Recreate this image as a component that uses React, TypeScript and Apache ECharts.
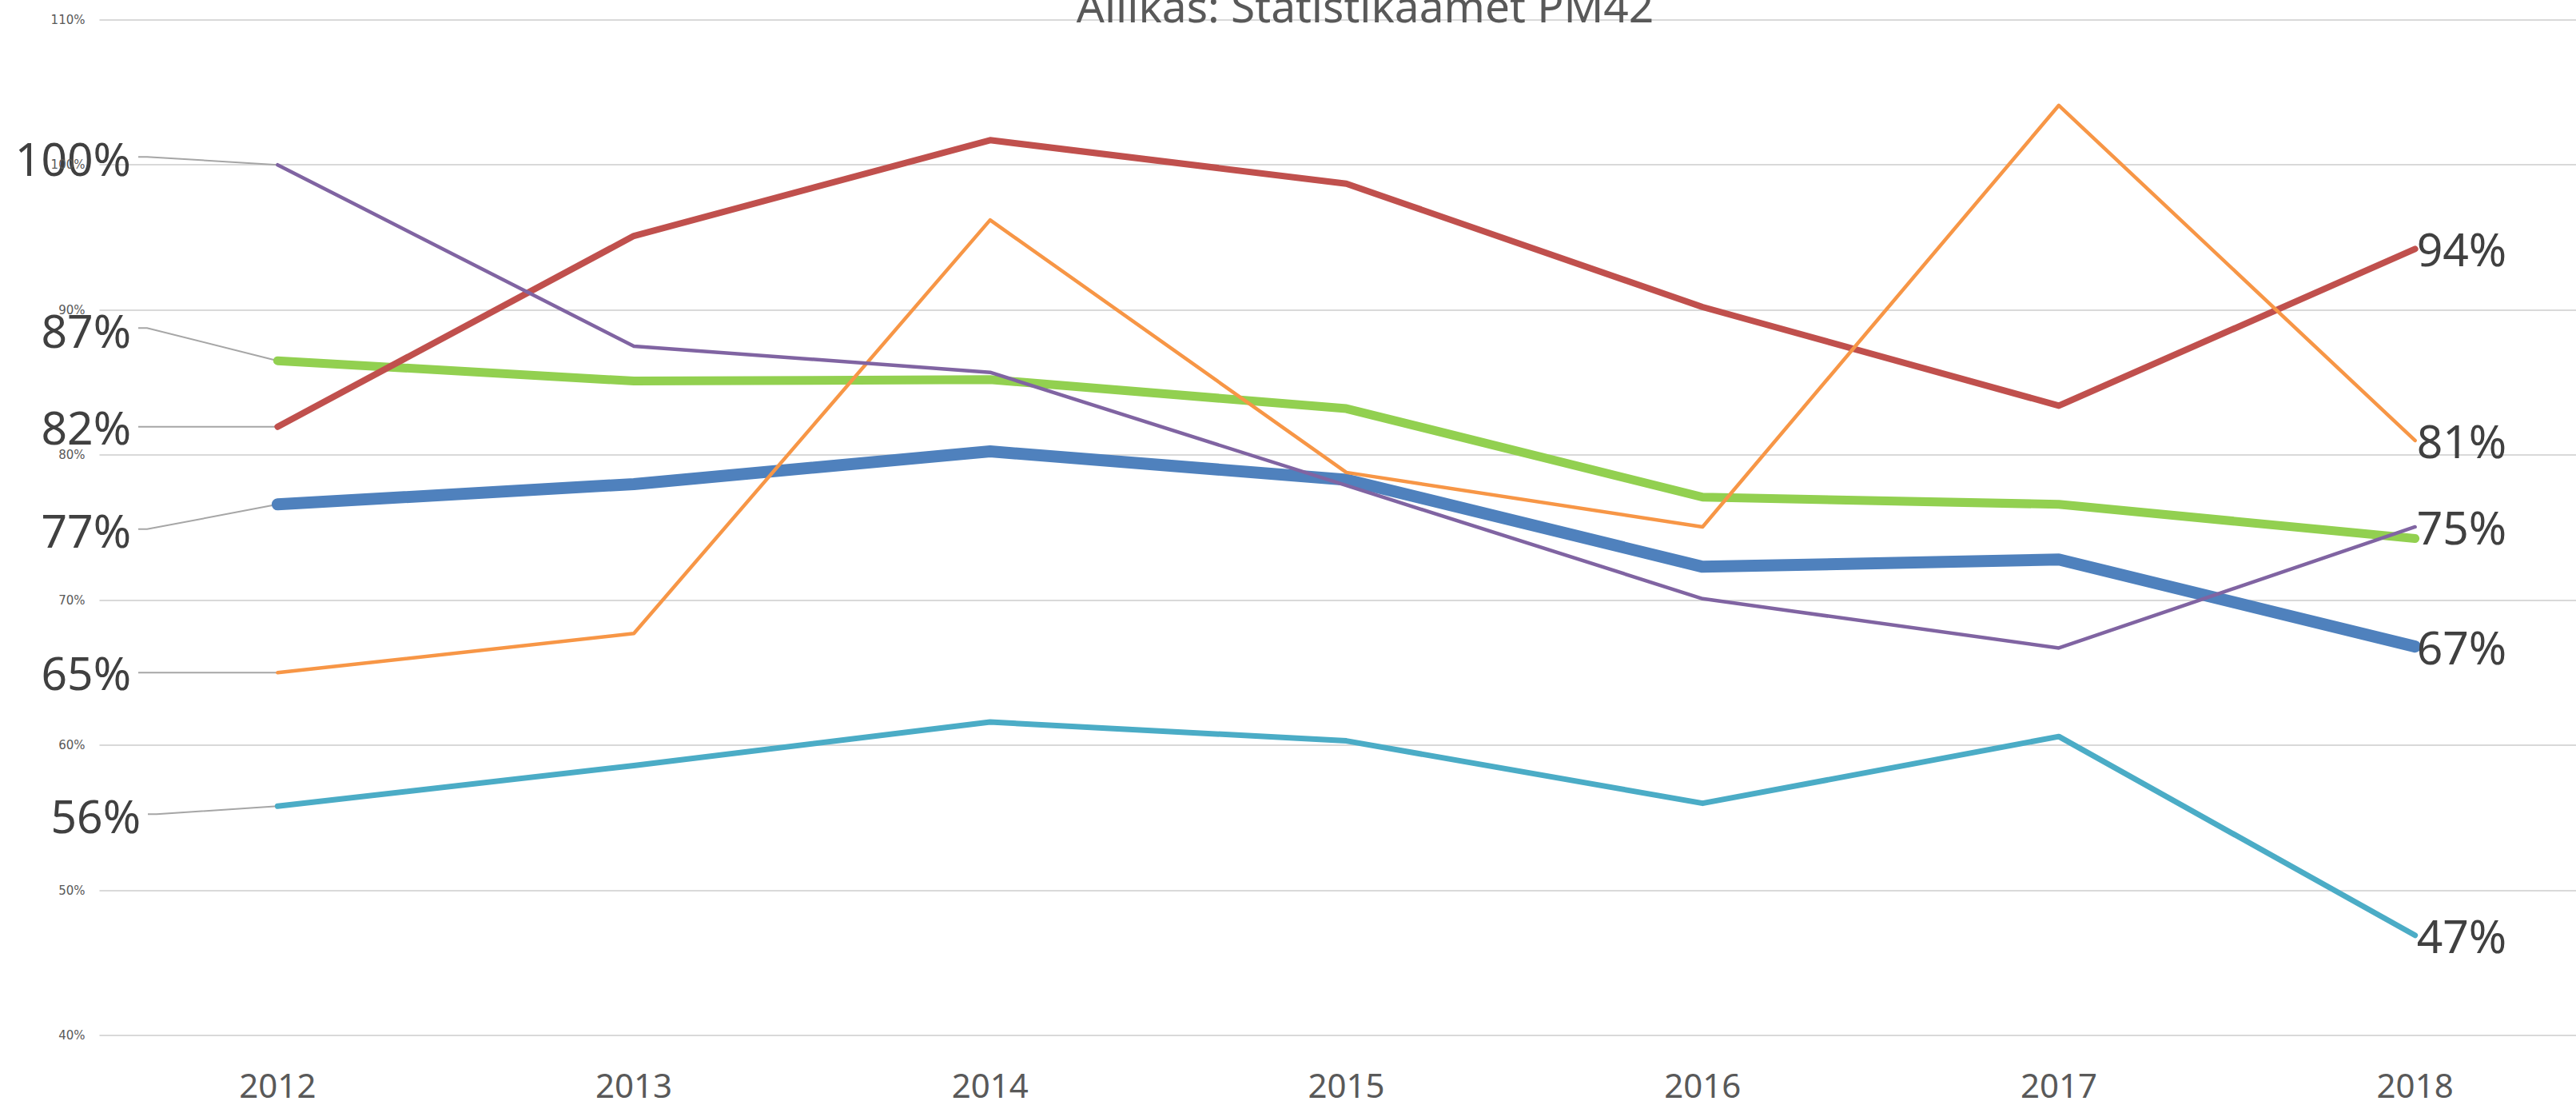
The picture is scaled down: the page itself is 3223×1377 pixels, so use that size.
import React, { useEffect, useRef } from "react";
import * as echarts from "echarts";

const years = ["2012", "2013", "2014", "2015", "2016", "2017", "2018"];
const blueValues = [76.6, 78.0, 80.25, 78.3, 72.3, 72.8, 66.8];
const greenValues = [86.5, 85.1, 85.2, 83.2, 77.1, 76.6, 74.25];
const redValues = [81.95, 95.1, 101.7, 98.7, 90.2, 83.4, 94.2];
const cyanValues = [55.8, 58.6, 61.6, 60.3, 56.0, 60.6, 46.9];
const orangeValues = [65.0, 67.7, 96.2, 78.8, 75.05, 104.1, 81.0];
const purpleValues = [100.0, 87.5, 85.7, 77.9, 70.1, 66.7, 75.05];
const yMin = 40;
const yMax = 110;
const yStep = 10;
const titleText = "Allikas: Statistikaamet PM42";

const seriesDefs = [
  { values: blueValues, color: "#4F81BD", width: 15, endLabel: true },
  { values: greenValues, color: "#92D050", width: 11, endLabel: false },
  { values: redValues, color: "#C0504D", width: 8, endLabel: true },
  { values: cyanValues, color: "#4BACC6", width: 7, endLabel: true },
  { values: orangeValues, color: "#F79646", width: 4.5, endLabel: true },
  { values: purpleValues, color: "#8064A2", width: 4.5, endLabel: true },
];

// layout of the left-hand labels (pixel offsets relative to the first point)
const leftLayout = [
  { dy: 32, lineDy: 31, right: 164, lineStart: 173, knee: 184 },
  { dy: -38, lineDy: -41, right: 164, lineStart: 173, knee: 184 },
  { dy: 0, lineDy: 0, right: 164, lineStart: 173, knee: 184 },
  { dy: 12, lineDy: 10, right: 176, lineStart: 185, knee: 196 },
  { dy: 0, lineDy: 0, right: 164, lineStart: 173, knee: 184 },
  { dy: -8, lineDy: -10, right: 164, lineStart: 173, knee: 184 },
];

const labelFont = "Noto Sans";

export default function App() {
  const ref = useRef<HTMLDivElement>(null);
  useEffect(() => {
    if (!ref.current) return;
    const chart = echarts.init(ref.current, null, { renderer: "svg" });
    const option: any = {
      animation: false,
      backgroundColor: "#ffffff",
      grid: { left: 124.5, top: 24.7, right: 0.5, bottom: 80, containLabel: false },
      xAxis: {
        type: "category",
        data: years,
        boundaryGap: true,
        axisLine: { show: false },
        axisTick: { show: false },
        axisLabel: { color: "#595959", fontSize: 42, fontFamily: labelFont, margin: 40 },
        splitLine: { show: false },
      },
      yAxis: {
        type: "value",
        min: yMin,
        max: yMax,
        interval: yStep,
        axisLine: { show: false },
        axisTick: { show: false },
        axisLabel: {
          formatter: "{value}%",
          color: "#595959",
          fontSize: 15,
          fontFamily: "DejaVu Sans",
          margin: 18,
        },
        splitLine: { show: true, lineStyle: { color: "#D9D9D9", width: 2 } },
      },
      series: seriesDefs.map((s) => ({
        type: "line",
        data: s.values,
        showSymbol: false,
        symbol: "none",
        lineStyle: { color: s.color, width: s.width, cap: "round", join: "round" },
        itemStyle: { color: s.color },
        endLabel: {
          show: s.endLabel,
          formatter: (p: any) => Math.round(Array.isArray(p.value) ? p.value[1] : p.value) + "%",
          distance: 2,
          fontSize: 57,
          fontFamily: labelFont,
          color: "#404040",
        },
      })),
    };
    chart.setOption(option);

    const graphics: any[] = [
      {
        type: "text",
        x: 1708,
        y: 6,
        silent: true,
        style: {
          text: titleText,
          align: "center",
          verticalAlign: "middle",
          fontSize: 55,
          fontFamily: labelFont,
          fill: "#595959",
        },
      },
    ];
    seriesDefs.forEach((s, i) => {
      const pt = chart.convertToPixel({ xAxisIndex: 0, yAxisIndex: 0 }, [0, s.values[0]]) as number[];
      const L = leftLayout[i];
      const ly = pt[1] + L.lineDy;
      graphics.push({
        type: "polyline",
        silent: true,
        z: 1,
        shape: { points: [[L.lineStart, ly], [L.knee, ly], [pt[0], pt[1]]] },
        style: { stroke: "#A6A6A6", lineWidth: 2, fill: null },
      });
      graphics.push({
        type: "text",
        x: L.right,
        y: pt[1] + L.dy,
        silent: true,
        style: {
          text: Math.round(s.values[0]) + "%",
          align: "right",
          verticalAlign: "middle",
          fontSize: 57,
          fontFamily: labelFont,
          fill: "#404040",
        },
      });
    });
    chart.setOption({ graphic: graphics });
    return () => chart.dispose();
  }, []);
  return (
    <div style={{ position: "absolute", left: 0, top: 0, width: 3223, height: 1377, overflow: "hidden" }}>
      <div ref={ref} style={{ width: 3245, height: 1377 }} />
    </div>
  );
}
